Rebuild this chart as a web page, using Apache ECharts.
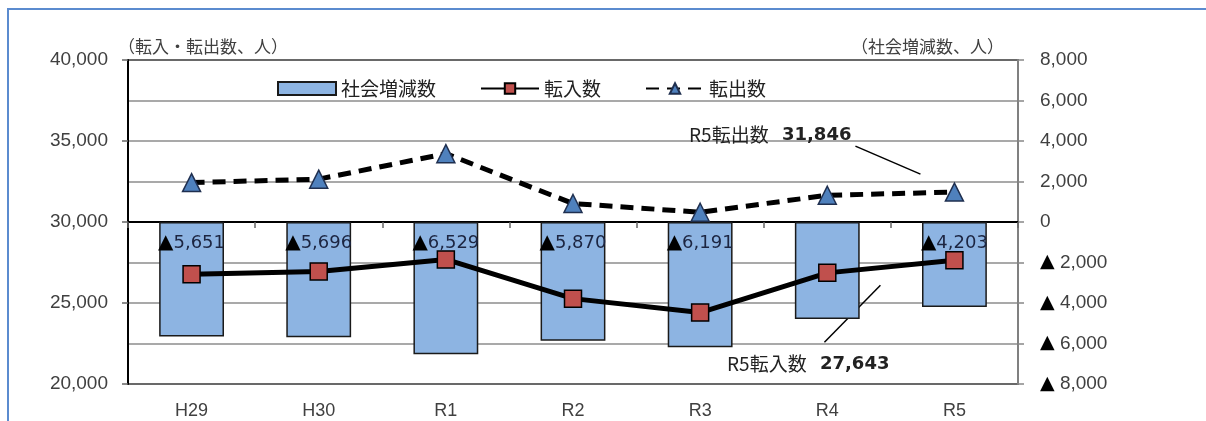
<!DOCTYPE html>
<html><head><meta charset="utf-8">
<script src="https://cdn.jsdelivr.net/npm/echarts@6/dist/echarts.min.js"></script>
<style>html,body{margin:0;padding:0;background:#fff}#c{width:1206px;height:421px}</style>
</head><body><div id="c"></div>
<script>
const categories = ['H29','H30','R1','R2','R3','R4','R5'];
const inflow  = [26780, 26950, 27690, 25270, 24410, 26860, 27643];
const outflow = [32431, 32646, 34219, 31140, 30601, 31650, 31846];
const netChange = [-5651, -5696, -6529, -5870, -6191, -4790, -4203];
const netLabelShown = [true, true, true, true, true, false, true];
const seriesNames = ['社会増減数','転入数','転出数'];
const leftTitle = '（転入・転出数、人）';
const rightTitle = '（社会増減数、人）';

const fmt = v => Math.abs(v).toLocaleString('en-US');
const JP = '"Noto Sans CJK JP", sans-serif';
const NUM = '"Liberation Sans", sans-serif';
const LBL = '"DejaVu Sans", sans-serif';

const chart = echarts.init(document.getElementById('c'), null, {renderer:'canvas'});
chart.setOption({
  animation:false,
  backgroundColor:'#fff',
  grid:{left:128, right:188, top:60, bottom:37, show:true, borderColor:'#000', borderWidth:2, backgroundColor:'transparent'},
  legend:{
    left:272, top:74, itemWidth:58, itemHeight:13, itemGap:44,
    textStyle:{fontFamily:JP, fontSize:19, color:'#222'},
    data:[{name:seriesNames[0], icon:'rect'}, {name:seriesNames[1]}, {name:seriesNames[2]}]
  },
  xAxis:{
    type:'category', data:categories, boundaryGap:true,
    axisLine:{lineStyle:{color:'#000', width:2}},
    axisTick:{show:true, length:6, lineStyle:{color:'#666', width:1.5}},
    axisLabel:{fontFamily:NUM, fontSize:18, color:'#404040', margin:18}
  },
  yAxis:[
    {type:'value', min:20000, max:40000, interval:5000, position:'left',
     axisLine:{show:true, lineStyle:{color:'#000', width:2}},
     axisTick:{show:true, length:6, lineStyle:{color:'#666', width:1.5}},
     splitLine:{show:false},
     axisLabel:{fontFamily:NUM, fontSize:19, color:'#404040', margin:20, formatter:v=>fmt(v)}},
    {type:'value', min:-8000, max:8000, interval:2000, position:'right',
     axisLine:{show:true, lineStyle:{color:'#808080', width:2}},
     axisTick:{show:true, length:6, lineStyle:{color:'#888', width:1.5}},
     splitLine:{show:true, lineStyle:{color:'#8c8c8c', width:1.5}},
     axisLabel:{fontFamily:NUM, fontSize:19, color:'#404040', margin:22,
       formatter:v=> v<0 ? '{t|▲} '+fmt(v) : fmt(v),
       rich:{t:{fontFamily:LBL, fontSize:19, color:'#000'}}}}
  ],
  series:[
    {name:seriesNames[0], type:'bar', yAxisIndex:1, barWidth:'51%', z:2,
     itemStyle:{color:'#8DB4E2', borderColor:'#1a1a1a', borderWidth:1.5},
     data:netChange.map((v,i)=>({value:v, label:{show:netLabelShown[i]}})),
     label:{position:'insideTop', distance:11,
       formatter:p=>'{t|▲}{n|'+fmt(p.value)+'}',
       rich:{t:{fontFamily:LBL, fontSize:20, color:'#000'}, n:{fontFamily:LBL, fontSize:18, color:'#1c2541'}}}},
    {name:seriesNames[1], type:'line', yAxisIndex:0, z:4, data:inflow,
     symbol:'rect', symbolSize:17,
     lineStyle:{color:'#000', width:5},
     itemStyle:{color:'#C0504D', borderColor:'#000', borderWidth:1.5}},
    {name:seriesNames[2], type:'line', yAxisIndex:0, z:3, data:outflow,
     symbol:'triangle', symbolSize:18,
     lineStyle:{color:'#000', width:5, type:[13,8]},
     itemStyle:{color:'#4F81BD', borderColor:'#1F2F4F', borderWidth:1.5}}
  ]
});

const last = categories.length-1;
const pOut = chart.convertToPixel({xAxisIndex:0, yAxisIndex:0}, [last, outflow[last]]);
const pIn  = chart.convertToPixel({xAxisIndex:0, yAxisIndex:0}, [last, inflow[last]]);
const annRich = {a:{fontFamily:JP, fontSize:19, fill:'#222'}, b:{fontFamily:LBL, fontSize:18, fontWeight:'bold', fill:'#222'}};
chart.setOption({
  graphic:[
    {type:'rect', shape:{x:8, y:9, width:1220, height:440}, style:{fill:'none', stroke:'#5B8BCF', lineWidth:2}, silent:true},
    {type:'text', x:118, y:47, style:{text:leftTitle, font:'17px '+JP, fill:'#404040', verticalAlign:'middle'}},
    {type:'text', x:1004, y:47, style:{text:rightTitle, font:'17px '+JP, fill:'#404040', align:'right', verticalAlign:'middle'}},
    {type:'text', x:pOut[0]-103, y:pOut[1]-57, style:{
      text:'{a|R5転出数}    {b|'+fmt(outflow[last])+'}', align:'right', verticalAlign:'middle', rich:annRich}},
    {type:'line', shape:{x1:pOut[0]-99, y1:pOut[1]-46, x2:pOut[0]-34, y2:pOut[1]-18}, style:{stroke:'#000', lineWidth:1.5}},
    {type:'text', x:pIn[0]-65, y:pIn[1]+104, style:{
      text:'{a|R5転入数}    {b|'+fmt(inflow[last])+'}', align:'right', verticalAlign:'middle', rich:annRich}},
    {type:'line', shape:{x1:pIn[0]-130, y1:pIn[1]+82, x2:pIn[0]-74, y2:pIn[1]+25}, style:{stroke:'#000', lineWidth:1.5}}
  ]
});
</script></body></html>
